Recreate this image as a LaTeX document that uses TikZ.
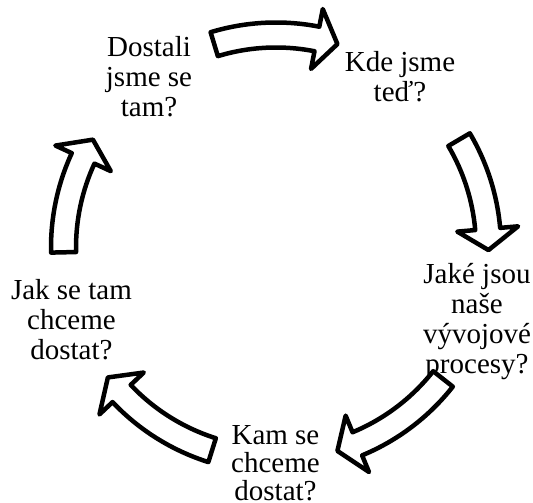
\documentclass[tikz,border=0pt]{standalone}
\usepackage{fontspec}
\setmainfont{Liberation Serif}
\begin{document}
\begin{tikzpicture}[x=1pt,y=1pt,
  lbl/.style={align=center,inner sep=0pt,font=\fontsize{29}{30}\selectfont},
  blockarrow/.style={draw=black,fill=white,line width=4.5pt,line join=round}]
\useasboundingbox (0,0) rectangle (533,503);
% labels
\node[lbl] (n1) at (149,426.4) {Dostali\\jsme se\\tam?};
\node[lbl] (n2) at (400,426) {Kde jsme\\teď?};
\node[lbl] (n3) at (477,181.2) {Jaké jsou\\naše\\vývojové\\procesy?};
\node[lbl,font=\fontsize{29}{28}\selectfont] (n4) at (275.5,39.5) {Kam se\\chceme\\dostat?};
\node[lbl] (n5) at (71.4,183.1) {Jak se tam\\chceme\\dostat?};
% curved block arrows
\coordinate (c) at (276,255.5);
\begin{scope}[shift={(c)}]
\foreach \ta/\tb in {106.9/73.2, 30.5/-0.7, -38.2/-73.2, -107.5/-142.3, 181.3/149.5}{
  \pgfmathsetmacro{\hb}{\tb+5.7}
  \draw[blockarrow] (\ta:225pt) arc[start angle=\ta, end angle=\hb, radius=225pt]
    -- (\hb:243pt) -- (\tb:212.5pt) -- (\hb:182pt) -- (\hb:200pt)
    arc[start angle=\hb, end angle=\ta, radius=200pt] -- cycle;
}
\end{scope}
\end{tikzpicture}
\end{document}
